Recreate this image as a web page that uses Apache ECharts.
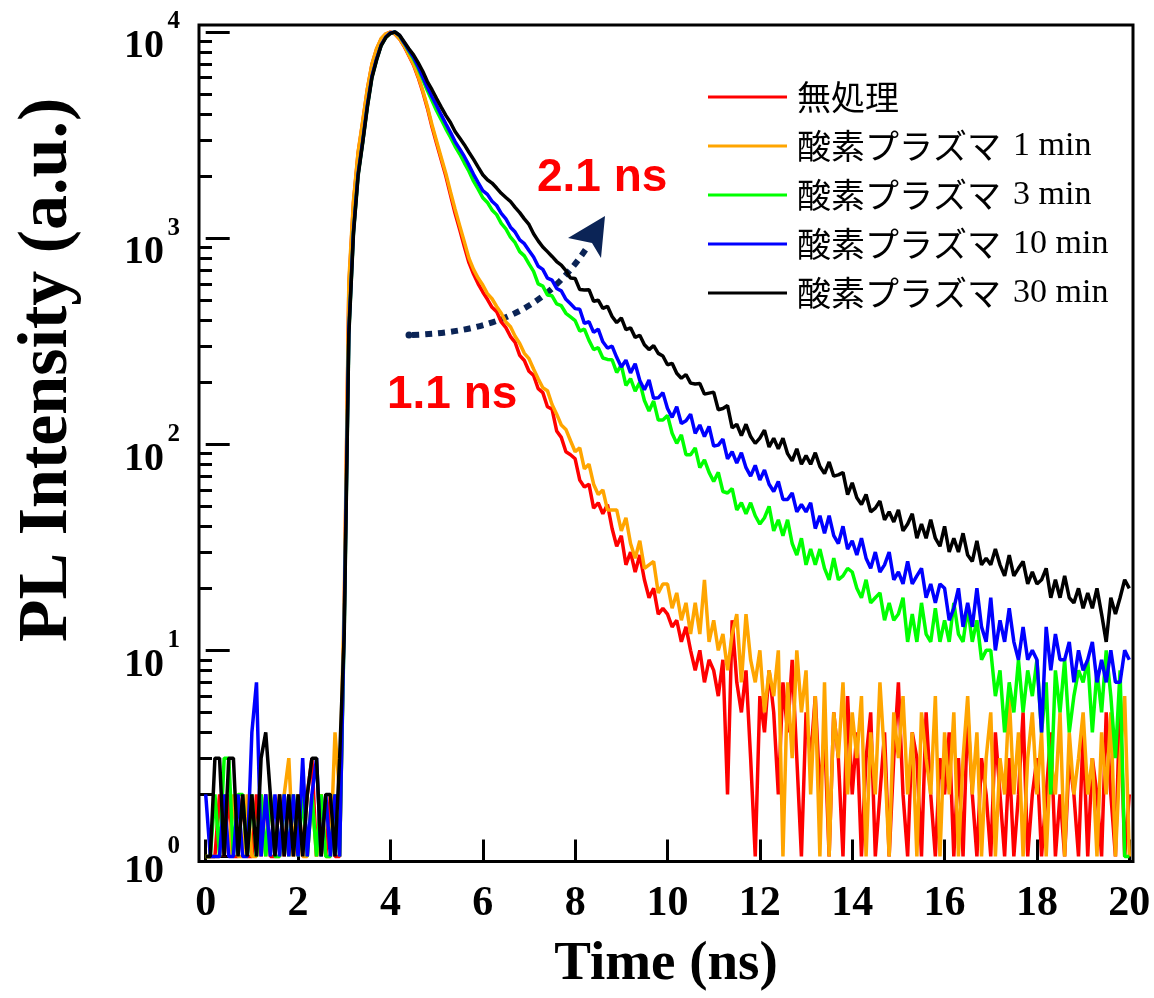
<!DOCTYPE html>
<html>
<head>
<meta charset="utf-8">
<script src="https://cdn.jsdelivr.net/npm/echarts@6/dist/echarts.min.js"></script>
<style>
  html, body { margin: 0; padding: 0; background: #fff; }
  #chart { width: 1154px; height: 998px; }
</style>
</head>
<body>
<div id="chart"></div>
<script>
// PL decay counts, sampled every 0.1 ns from 0 to 20 ns (one row = 1 ns)
const RED_COUNTS = [
  1, 1, 1, 2, 1, 2, 1, 1, 2, 1,
  1, 2, 1, 2, 1, 1, 2, 1, 2, 1,
  2, 1, 2, 3, 1, 2, 1, 2, 1, 1,
  15, 580, 1480, 2580, 3650, 5250, 6950, 8250, 9250, 9780,
  10000, 9780, 9230, 8510, 7670, 6920, 6030, 5130, 4270, 3470,
  2880, 2400, 2000, 1620, 1320, 1100, 910, 760, 670, 600,
  548, 505, 462, 440, 392, 368, 333, 312, 270, 255,
  226, 216, 186, 178, 152, 148, 116, 108, 92, 89,
  85, 67, 62, 64, 49, 52, 46, 51, 39, 32,
  36, 26, 30, 24, 29, 22, 18, 20, 15, 16,
  15, 13, 14, 11, 13, 10, 8, 10, 7, 9,
  8, 6, 9, 2, 14, 7, 5, 8, 3, 1,
  6, 4, 8, 5, 2, 7, 4, 9, 3, 1,
  5, 3, 6, 2, 4, 1, 5, 3, 1, 6,
  2, 4, 1, 3, 5, 1, 2, 4, 1, 3,
  7, 2, 1, 4, 3, 1, 5, 2, 1, 3,
  2, 4, 1, 3, 1, 5, 2, 1, 3, 2,
  1, 4, 2, 1, 3, 1, 2, 5, 1, 2,
  3, 1, 2, 4, 1, 2, 1, 3, 2, 1,
  4, 1, 3, 2, 1, 5, 2, 1, 6, 1,
  2
];
const ORANGE_COUNTS = [
  1, 1, 1, 1, 2, 1, 2, 1, 1, 2,
  1, 1, 2, 1, 2, 1, 1, 2, 3, 1,
  2, 1, 1, 2, 1, 2, 1, 1, 4, 2,
  18, 620, 1520, 2620, 3700, 5300, 7000, 8300, 9300, 9800,
  10000, 9800, 9250, 8550, 7720, 6980, 6100, 5200, 4350, 3550,
  2950, 2460, 2060, 1680, 1380, 1150, 960, 800, 705, 640,
  592, 538, 508, 466, 432, 392, 372, 334, 308, 276,
  260, 232, 208, 188, 182, 156, 140, 124, 118, 104,
  92, 96, 76, 80, 64, 57, 60, 48, 48, 48,
  38, 44, 33, 28, 34, 25, 26, 27, 19, 21,
  21, 16, 19, 14, 17, 12, 17, 12, 22, 11,
  14, 10, 12, 8, 12, 15, 7, 15, 9, 7,
  10, 5, 8, 6, 10, 1, 7, 3, 10, 5,
  8, 2, 6, 1, 7, 1, 5, 3, 7, 2,
  5, 3, 6, 1, 4, 2, 7, 3, 1, 5,
  3, 6, 2, 4, 1, 5, 3, 2, 6, 1,
  4, 2, 5, 1, 3, 6, 2, 4, 1, 3,
  5, 1, 3, 2, 6, 2, 4, 1, 3, 5,
  2, 4, 1, 3, 2, 5, 1, 4, 2, 3,
  5, 2, 3, 1, 4, 2, 5, 1, 3, 6,
  1
];
const GREEN_COUNTS = [
  1, 1, 2, 1, 3, 3, 1, 2, 2, 1,
  2, 1, 2, 1, 2, 1, 1, 2, 1, 2,
  1, 2, 1, 2, 1, 2, 1, 1, 2, 1,
  13, 350, 1070, 2030, 2930, 4350, 6050, 7350, 8620, 9420,
  9880, 10000, 9580, 8800, 8050, 7400, 6650, 5900, 5200, 4650,
  4150, 3760, 3390, 3090, 2790, 2560, 2320, 2110, 1890, 1730,
  1570, 1490, 1370, 1300, 1180, 1110, 1010, 950, 860, 820,
  750, 690, 600, 585, 530, 525, 480, 470, 432, 415,
  398, 354, 362, 319, 288, 294, 262, 258, 257, 223,
  242, 193, 208, 181, 200, 163, 145, 162, 131, 131,
  138, 113, 101, 111, 89, 89, 96, 77, 84, 73,
  66, 73, 59, 58, 61, 48, 52, 46, 52, 45,
  41, 44, 50, 38, 43, 36, 43, 33, 29, 35,
  26, 31, 26, 31, 25, 22, 28, 22, 23, 25,
  24, 20, 18, 22, 17, 18, 19, 14, 17, 14,
  15, 18, 11, 15, 11, 17, 12, 11, 16, 11,
  14, 11, 17, 12, 11, 16, 11, 14, 9, 10,
  10, 6, 8, 4, 7, 5, 9, 5, 8, 6,
  9, 4, 7, 2, 8, 5, 9, 4, 6, 8,
  7, 9, 4, 8, 5, 10, 6, 3, 8, 1,
  1
];
const BLUE_COUNTS = [
  2, 1, 1, 1, 2, 1, 1, 2, 1, 1,
  4, 7, 1, 2, 1, 2, 1, 2, 1, 2,
  1, 3, 1, 2, 3, 1, 2, 1, 2, 1,
  14, 360, 1080, 2050, 2950, 4400, 6100, 7400, 8650, 9450,
  9900, 10000, 9600, 8850, 8150, 7550, 6800, 6050, 5400, 4850,
  4400, 3960, 3590, 3260, 2940, 2710, 2490, 2260, 2040, 1860,
  1700, 1630, 1510, 1440, 1320, 1240, 1130, 1070, 980, 940,
  870, 810, 730, 705, 640, 625, 570, 555, 505, 480,
  455, 452, 386, 393, 349, 362, 314, 293, 299, 264,
  237, 256, 222, 246, 204, 184, 205, 167, 168, 178,
  149, 135, 152, 126, 130, 140, 113, 124, 109, 122,
  98, 99, 106, 85, 92, 81, 91, 77, 70, 79,
  67, 75, 64, 59, 66, 54, 54, 58, 47, 51,
  47, 52, 39, 45, 37, 45, 36, 33, 40, 31,
  34, 29, 35, 28, 25, 30, 24, 26, 30, 22,
  24, 21, 27, 21, 23, 25, 18, 21, 17, 21,
  20, 14, 16, 20, 13, 17, 13, 20, 13, 11,
  18, 10, 14, 11, 16, 11, 9, 13, 9, 10,
  9, 4, 13, 8, 12, 9, 9, 11, 7, 10,
  8, 9, 11, 7, 9, 7, 10, 7, 7, 10,
  9
];
const BLACK_COUNTS = [
  1, 1, 3, 3, 1, 3, 3, 1, 2, 1,
  2, 1, 3, 4, 2, 1, 2, 1, 2, 1,
  2, 1, 2, 3, 3, 1, 2, 2, 1, 3,
  12, 340, 1050, 2000, 2900, 4300, 6000, 7300, 8600, 9400,
  9850, 10000, 9650, 8950, 8300, 7750, 7100, 6450, 5750, 5250,
  4750, 4320, 3940, 3640, 3290, 3060, 2840, 2610, 2410, 2210,
  2030, 1920, 1850, 1750, 1650, 1575, 1505, 1410, 1330, 1240,
  1165, 1050, 970, 905, 860, 815, 770, 740, 695, 640,
  637, 563, 560, 562, 494, 500, 456, 467, 417, 389,
  410, 360, 367, 330, 338, 304, 288, 301, 276, 268,
  243, 247, 221, 209, 218, 198, 196, 197, 175, 177,
  179, 147, 149, 154, 120, 125, 110, 125, 109, 101,
  107, 117, 97, 107, 95, 107, 90, 83, 95, 80,
  88, 80, 91, 78, 72, 82, 70, 71, 73, 57,
  65, 55, 51, 57, 47, 49, 53, 43, 47, 42,
  48, 38, 41, 46, 35, 41, 35, 43, 35, 32,
  40, 30, 35, 30, 37, 29, 27, 34, 26, 28,
  26, 31, 26, 23, 29, 23, 25, 27, 21, 24,
  21, 22, 25, 18, 22, 18, 23, 18, 17, 20,
  16, 19, 16, 20, 15, 11, 18, 15, 18, 22,
  20
];

const TIME_STEP = 0.1;
const TIME_NS = RED_COUNTS.map((_, i) => +(i * TIME_STEP).toFixed(1));

const SERIES_NAMES = ['無処理', '酸素プラズマ 1 min', '酸素プラズマ 3 min', '酸素プラズマ 10 min', '酸素プラズマ 30 min'];
const SERIES_COLORS = ['#ff0000', '#ffa500', '#00ff00', '#0000ff', '#000000'];
const SERIES_COUNTS = [RED_COUNTS, ORANGE_COUNTS, GREEN_COUNTS, BLUE_COUNTS, BLACK_COUNTS];

const X_TICKS = [0, 2, 4, 6, 8, 10, 12, 14, 16, 18, 20];
const Y_MAJOR = [1, 10, 100, 1000, 10000];
const Y_MINOR = [2, 3, 4, 5, 6, 7, 8, 9, 20, 30, 40, 50, 60, 70, 80, 90,
  200, 300, 400, 500, 600, 700, 800, 900, 2000, 3000, 4000, 5000, 6000, 7000, 8000, 9000];

const SERIF = '"Liberation Serif", "Times New Roman", serif';
const Y_MIN = Math.pow(10, -0.0243);
const Y_MAX = Math.pow(10, 4.034);

const chart = echarts.init(document.getElementById('chart'));

const series = SERIES_NAMES.map((name, k) => ({
  name: name,
  type: 'line',
  symbol: 'none',
  yAxisIndex: 0,
  color: SERIES_COLORS[k],
  lineStyle: { width: 3.5, color: SERIES_COLORS[k] },
  data: SERIES_COUNTS[k].map((v, i) => [TIME_NS[i], v])
}));

chart.setOption({
  animation: false,
  backgroundColor: '#fff',
  grid: {
    left: 199, right: 21, top: 25, bottom: 136.5,
    show: true, borderColor: '#000', borderWidth: 3,
    outerBoundsMode: 'none'
  },
  legend: {
    orient: 'vertical',
    left: 703, top: 75,
    icon: 'rect',
    itemWidth: 79, itemHeight: 3, itemGap: 15,
    data: SERIES_NAMES,
    formatter: function (name) {
      const sp = name.indexOf(' ');
      if (sp < 0) return '{j|' + name + '}';
      return '{j|' + name.slice(0, sp) + '}{e|' + name.slice(sp + 1) + '}';
    },
    textStyle: {
      color: '#000',
      rich: {
        j: { fontFamily: '"Noto Sans CJK JP"', fontSize: 34, lineHeight: 34, color: '#000', padding: [0, 0, 0, 5] },
        e: { fontFamily: SERIF, fontSize: 34, lineHeight: 34, color: '#000', padding: [0, 0, 0, 12] }
      }
    }
  },
  xAxis: {
    type: 'value',
    min: -0.145, max: 20.08,
    axisLine: { show: false },
    splitLine: { show: false },
    axisTick: { customValues: X_TICKS, inside: true, length: 22, lineStyle: { width: 3, color: '#000' } },
    axisLabel: {
      customValues: X_TICKS, margin: 22,
      fontFamily: SERIF, fontWeight: 'bold', fontSize: 42, color: '#000'
    },
    name: 'Time (ns)',
    nameLocation: 'middle',
    nameGap: 76,
    nameTextStyle: { fontFamily: SERIF, fontWeight: 'bold', fontSize: 55, color: '#000' }
  },
  yAxis: [
    {
      // major decades: "10" base of each label
      type: 'log', logBase: 10,
      min: Y_MIN, max: Y_MAX,
      position: 'left',
      axisLine: { show: false },
      splitLine: { show: false },
      axisTick: { customValues: Y_MAJOR, inside: true, length: 24, lineStyle: { width: 3, color: '#000' } },
      axisLabel: {
        customValues: Y_MAJOR,
        margin: 35,
        formatter: function () { return '10'; },
        verticalAlign: 'top',
        lineHeight: 30,
        fontFamily: SERIF, fontWeight: 'bold', fontSize: 40, color: '#000'
      }
    },
    {
      // minor ticks + exponent of each decade label
      type: 'log', logBase: 10,
      min: Y_MIN, max: Y_MAX,
      position: 'left', offset: 0,
      axisLine: { show: false },
      splitLine: { show: false },
      axisTick: { customValues: Y_MINOR, inside: true, length: 13, lineStyle: { width: 3, color: '#000' } },
      axisLabel: {
        customValues: Y_MAJOR,
        margin: 19,
        formatter: function (v) { return String(Math.round(Math.log10(v))); },
        verticalAlign: 'bottom',
        lineHeight: 20,
        fontFamily: SERIF, fontWeight: 'bold', fontSize: 25, color: '#000'
      }
    }
  ],
  graphic: [
    {
      type: 'text', x: 48, y: 370, rotation: Math.PI / 2,
      style: {
        text: 'PL Intensity (a.u.)', fill: '#000',
        fontFamily: SERIF, fontWeight: 'bold', fontSize: 70,
        align: 'center', verticalAlign: 'middle'
      }
    },
    {
      type: 'text', x: 537, y: 178,
      style: {
        text: '2.1 ns', fill: '#ff0000',
        fontFamily: '"Liberation Sans", Arial, sans-serif', fontWeight: 'bold', fontSize: 46,
        align: 'left', verticalAlign: 'middle'
      }
    },
    {
      type: 'text', x: 387, y: 395,
      style: {
        text: '1.1 ns', fill: '#ff0000',
        fontFamily: '"Liberation Sans", Arial, sans-serif', fontWeight: 'bold', fontSize: 46,
        align: 'left', verticalAlign: 'middle'
      }
    },
    {
      type: 'bezierCurve',
      shape: { x1: 412, y1: 335, x2: 588, y2: 246, cpx1: 490, cpy1: 332, cpx2: 545, cpy2: 312 },
      style: { stroke: '#0b2456', lineWidth: 6, lineDash: [7, 6], fill: null }
    },
    {
      type: 'circle',
      shape: { cx: 409, cy: 335, r: 3.5 },
      style: { fill: '#0b2456' }
    },
    {
      type: 'polygon',
      shape: { points: [[605, 216], [568, 238], [592, 243], [601, 258]] },
      style: { fill: '#0b2456' }
    }
  ],
  series: series
});
</script>
</body>
</html>
